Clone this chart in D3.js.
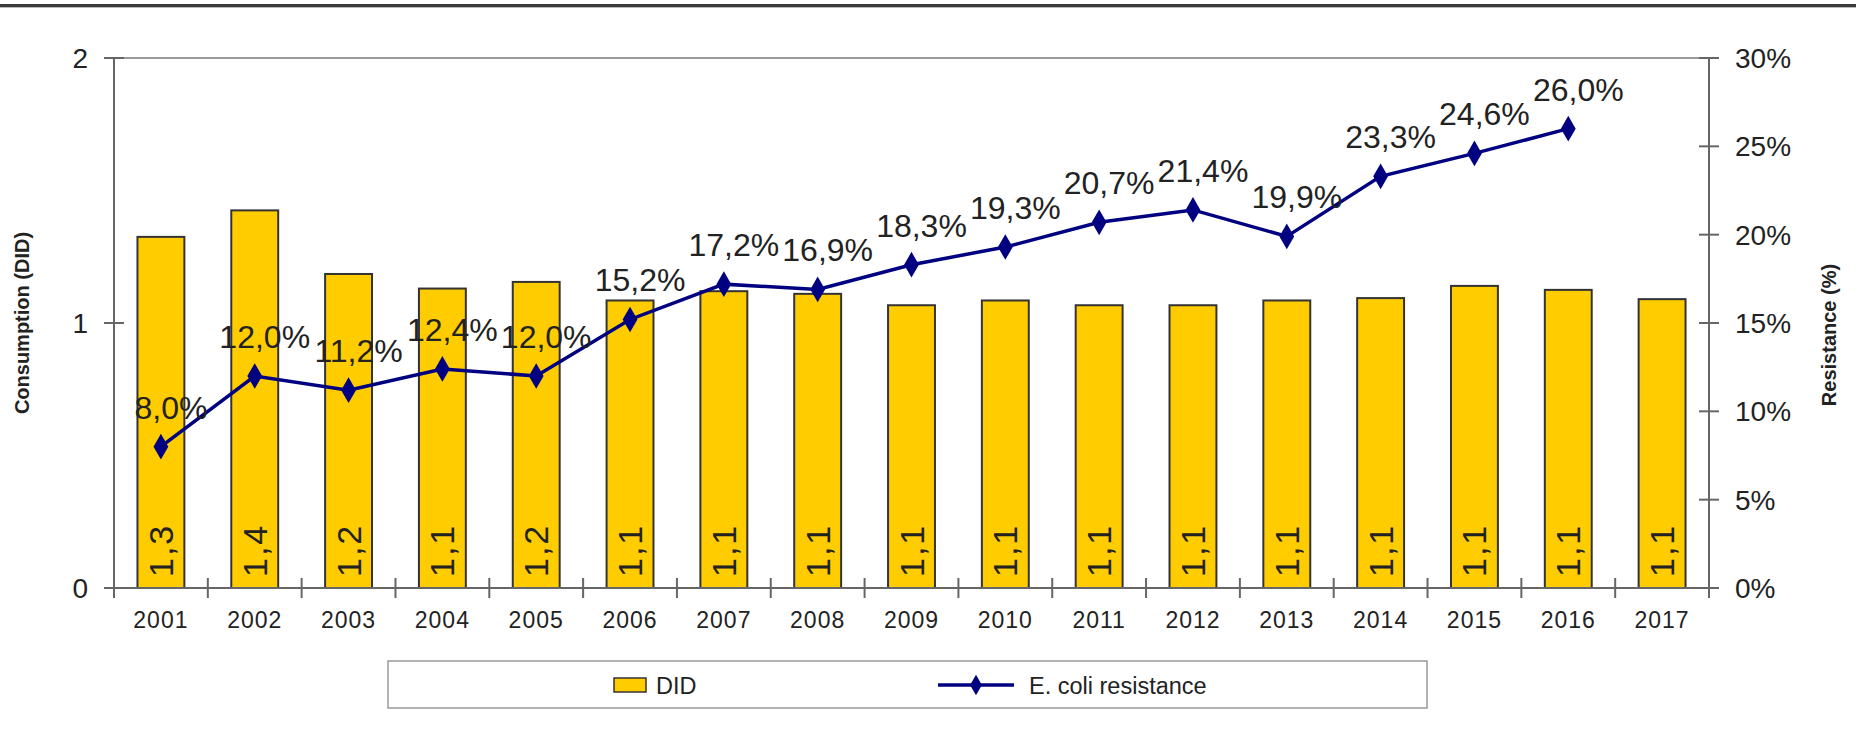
<!DOCTYPE html>
<html><head><meta charset="utf-8">
<script src="https://cdn.jsdelivr.net/npm/d3@7"></script>
<style>
body{margin:0;background:#fff;}
svg{display:block;font-family:"Liberation Sans",Arial,sans-serif;}
</style></head>
<body><svg id="c" width="1858" height="729"></svg>
<script>
const years = ["2001","2002","2003","2004","2005","2006","2007","2008","2009","2010","2011","2012","2013","2014","2015","2016","2017"];
const did = [1.325,1.425,1.185,1.13,1.155,1.085,1.12,1.11,1.067,1.085,1.067,1.067,1.085,1.094,1.14,1.125,1.09];
const resistance = [8.0,12.0,11.2,12.4,12.0,15.2,17.2,16.9,18.3,19.3,20.7,21.4,19.9,23.3,24.6,26.0,null];
const leftTicks = [0,1,2];
const rightTicks = [0,5,10,15,20,25,30];

const svg = d3.select("#c");
const L = 114, R = 1709, T = 58, B = 588;
const comma = v => v.toFixed(1).replace(".", ",");

// top rule
svg.append("rect").attr("x",0).attr("y",4).attr("width",1856).attr("height",3).attr("fill","#3a3a3a");
svg.append("rect").attr("x",0).attr("y",7).attr("width",1856).attr("height",1).attr("fill","#bbb");

const x = d3.scaleBand().domain(years).range([L,R]).paddingInner(0.5).paddingOuter(0.25);
const xb = d3.scaleBand().domain(years).range([L,R]);
const yL = d3.scaleLinear().domain([0,2]).range([B,T]);
const yR = d3.scaleLinear().domain([0,30]).range([B,T]);

// plot area top border
svg.append("line").attr("x1",L).attr("x2",R).attr("y1",T).attr("y2",T).attr("stroke","#999").attr("stroke-width",2);

// bars
svg.append("g").selectAll("rect").data(years).join("rect")
  .attr("x",d=>x(d)).attr("width",x.bandwidth())
  .attr("y",(d,i)=>yL(did[i])).attr("height",(d,i)=>B-yL(did[i]))
  .attr("fill","#FFCC00").attr("stroke","#333").attr("stroke-width",2);

// bar labels
svg.append("g").selectAll("text").data(years).join("text")
  .attr("transform",(d)=>`translate(${x(d)+x.bandwidth()/2+12},${B-11}) rotate(-90)`)
  .attr("font-size",34).attr("letter-spacing",2).attr("fill","#222")
  .text((d,i)=>comma(did[i]));

// axes
function axisLine(x1,y1,x2,y2){svg.append("line").attr("x1",x1).attr("y1",y1).attr("x2",x2).attr("y2",y2).attr("stroke","#666").attr("stroke-width",2);}
axisLine(L,T,L,B); axisLine(R,T,R,B); axisLine(L,B,R,B);

const gl = svg.append("g");
leftTicks.forEach(t=>{
  gl.append("line").attr("x1",L-10).attr("x2",L+10).attr("y1",yL(t)).attr("y2",yL(t)).attr("stroke","#666").attr("stroke-width",2);
  gl.append("text").attr("x",L-26).attr("y",yL(t)+10).attr("text-anchor","end").attr("font-size",28).attr("fill","#222").text(t);
});
rightTicks.forEach(t=>{
  gl.append("line").attr("x1",R-10).attr("x2",R+10).attr("y1",yR(t)).attr("y2",yR(t)).attr("stroke","#666").attr("stroke-width",2);
  gl.append("text").attr("x",R+26).attr("y",yR(t)+10).attr("font-size",28).attr("fill","#222").text(t+"%");
});
years.forEach((d,i)=>{
  gl.append("line").attr("x1",xb(d)).attr("x2",xb(d)).attr("y1",B-10).attr("y2",B+10).attr("stroke","#666").attr("stroke-width",2);
  gl.append("text").attr("x",xb(d)+xb.bandwidth()/2).attr("y",B+40).attr("text-anchor","middle").attr("font-size",23).attr("letter-spacing",1).attr("fill","#222").text(d);
});
gl.append("line").attr("x1",R).attr("x2",R).attr("y1",B-10).attr("y2",B+10).attr("stroke","#666").attr("stroke-width",2);

// axis titles
svg.append("text").attr("transform",`translate(29,${(T+B)/2}) rotate(-90)`).attr("text-anchor","middle")
  .attr("font-size",20).attr("font-weight","bold").attr("fill","#222").text("Consumption (DID)");
svg.append("text").attr("transform",`translate(1836,${(T+B)/2+12}) rotate(-90)`).attr("text-anchor","middle")
  .attr("font-size",20).attr("font-weight","bold").attr("fill","#222").text("Resistance (%)");

// line
const pts = years.map((d,i)=>({d,v:resistance[i]})).filter(p=>p.v!==null);
const cx = d=>x(d)+x.bandwidth()/2;
svg.append("path").datum(pts)
  .attr("d",d3.line().x(p=>cx(p.d)).y(p=>yR(p.v)))
  .attr("fill","none").attr("stroke","#000080").attr("stroke-width",3.5);
const diamond = d3.symbol().type(d3.symbolDiamond).size(190);
svg.append("g").selectAll("path").data(pts).join("path")
  .attr("transform",p=>`translate(${cx(p.d)},${yR(p.v)})`).attr("d",diamond).attr("fill","#000080");
svg.append("g").selectAll("text").data(pts).join("text")
  .attr("x",p=>cx(p.d)+10).attr("y",p=>yR(p.v)-28).attr("text-anchor","middle")
  .attr("font-size",32).attr("fill","#222").text(p=>comma(p.v)+"%");

// legend
const lg = svg.append("g");
lg.append("rect").attr("x",388).attr("y",661).attr("width",1039).attr("height",47).attr("fill","#fff").attr("stroke","#999").attr("stroke-width",1.5);
lg.append("rect").attr("x",614).attr("y",678).attr("width",32).attr("height",14).attr("fill","#FFCC00").attr("stroke","#333").attr("stroke-width",1.5);
lg.append("text").attr("x",656).attr("y",694).attr("font-size",23.5).attr("fill","#222").text("DID");
lg.append("line").attr("x1",938).attr("x2",1014).attr("y1",685).attr("y2",685).attr("stroke","#000080").attr("stroke-width",3.5);
lg.append("path").attr("transform","translate(976,685)").attr("d",d3.symbol().type(d3.symbolDiamond).size(120)).attr("fill","#000080");
lg.append("text").attr("x",1029).attr("y",694).attr("font-size",23.5).attr("fill","#222").text("E. coli resistance");
</script></body></html>
